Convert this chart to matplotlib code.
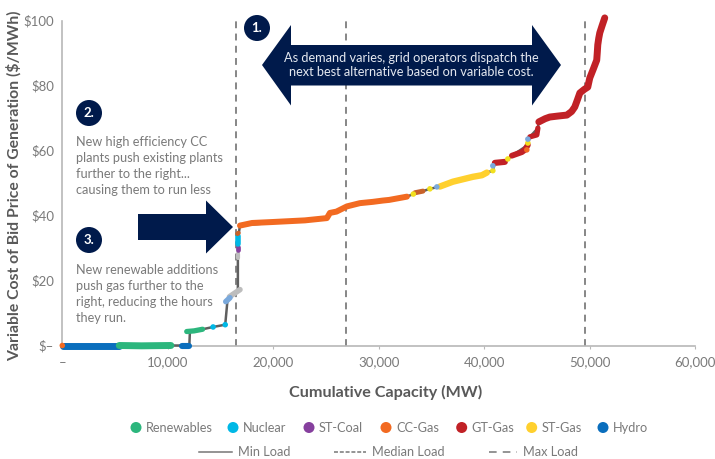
import matplotlib
matplotlib.use("Agg")
from matplotlib import pyplot as plt
from matplotlib.patches import Circle, Polygon

plt.rcParams['font.family'] = ['Lato', 'DejaVu Sans']

W = 715
H = 459
my_dpi = 100
navy = '#001a4b'
grey_text = '#7a7a7a'
dark_text = '#595959'
axis_grey = '#b8b8b8'
line_grey = '#5f5f5f'

GREEN = '#2cb67d'
NUCLEAR = '#00b8e6'
COAL = '#86409e'
CC = '#f26a21'
GT = '#c12126'
ST = '#ffd02e'
HYDRO = '#0a6ebd'
LT_BLUE = '#7aa9dc'
LT_GREY = '#bdbdbd'
BROWN = '#c8622a'
BRIGHT = '#f2e01f'

# supply stack, dark line underneath the coloured runs
curve_x = [0, 11300, 12050, 12100, 13300, 14300, 15450, 15650, 15900, 16650, 16650, 16700,
           16850, 25090, 25380, 26990, 28220, 32680, 33290, 34200, 34860, 35800, 38930, 40260,
           40830, 41020, 41970, 42630, 44150, 44340, 45100, 45190]
curve_y = [0, 0, 0.2, 4.2, 5.0, 5.7, 6.4, 13.4, 14.7, 17.0, 27.0, 33.7,
           36.9, 39.2, 40.8, 42.8, 43.8, 45.8, 46.6, 47.5, 48.2, 48.9, 51.9, 53.2,
           53.8, 56.2, 56.5, 58.4, 61.7, 64.2, 66.9, 68.8]

hydro_x = [100, 5400]
hydro_y = [0, 0]
hydro2_x = [11350, 12000]
hydro2_y = [0, 0]
renew_x = [5400, 7500, 10300]
renew_y = [0, -0.1, 0]
renew2_x = [11800, 12500, 13300]
renew2_y = [4.3, 4.5, 5.0]
grey_x = [15850, 16300, 16850]
grey_y = [15.0, 16.0, 17.2]
ltblue_x = [15500, 15900]
ltblue_y = [13.5, 14.7]
grey2_x = [16650, 16650]
grey2_y = [27.0, 28.2]
coal_x = [16650, 16650]
coal_y = [29.4, 30.2]
nuclear_x = [16700, 16700]
nuclear_y = [31.2, 33.6]
brown_x = [16620, 16700]
brown_y = [34.4, 34.6]
cc_x = [16850, 18000, 19970, 23000, 25090, 25380, 26000, 26990, 28220, 29450, 30400, 31000, 32680]
cc_y = [36.9, 37.7, 38.0, 38.5, 39.2, 40.8, 41.2, 42.8, 43.8, 44.2, 44.6, 44.8, 45.8]
brown2_x = [33440, 34200]
brown2_y = [47.0, 47.5]
st_x = [35800, 37040, 38930, 39800, 40260]
st_y = [48.9, 50.4, 51.9, 52.4, 53.2]
gt1_x = [41020, 41970]
gt1_y = [56.2, 56.5]
gt2_x = [42630, 43580, 43870, 44150]
gt2_y = [58.4, 59.5, 60.2, 61.7]
gt3_x = [44340, 45000, 45100]
gt3_y = [64.2, 64.8, 66.9]
gt4_x = [45190, 45800, 46230, 47000, 47850, 48300, 48600, 48850, 49080, 49500, 49830, 50020,
         50350, 50680, 50730, 50780, 50870, 50970, 51200, 51440]
gt4_y = [68.8, 69.8, 70.3, 70.6, 70.9, 72.0, 73.4, 75.6, 77.7, 78.8, 79.5, 82.3,
         85.0, 87.8, 90.0, 92.5, 94.5, 96.2, 98.5, 100.8]

# single small units sitting on the curve
dot_x = [0, 14300, 15450, 33290, 34860, 35520, 40830, 40830, 42250, 44050, 44150, 44150]
dot_y = [0, 5.7, 6.4, 46.6, 48.2, 48.8, 53.8, 55.3, 57.4, 60.2, 62.3, 63.5]
dot_c = [CC, NUCLEAR, NUCLEAR, BRIGHT, BRIGHT, LT_BLUE, BRIGHT, LT_BLUE, BRIGHT, CC, BRIGHT, LT_BLUE]

min_load = 16480
median_load = 26880
max_load = 49600

x_ticks = [0, 10000, 20000, 30000, 40000, 50000, 60000]
x_tick_labels = ['–', '10,000', '20,000', '30,000', '40,000', '50,000', '60,000']
y_ticks = [0, 20, 40, 60, 80, 100]
y_tick_labels = ['$–', '$20', '$40', '$60', '$80', '$100']

fuel_names = ['Renewables', 'Nuclear', 'ST-Coal', 'CC-Gas', 'GT-Gas', 'ST-Gas', 'Hydro']
fuel_colors = [GREEN, NUCLEAR, COAL, CC, GT, ST, HYDRO]
load_names = ['Min Load', 'Median Load', 'Max Load']

fig = plt.figure(figsize=(W/my_dpi, H/my_dpi), dpi=my_dpi, facecolor='w')
ax = fig.add_axes([62.3/W, 1-345.5/H, (695-62.3)/W, 325/H])
ax.set_xlim(0, 60000)
ax.set_ylim(0, 100)
for side in ['top', 'right']:
    ax.spines[side].set_visible(False)
for side in ['left', 'bottom']:
    ax.spines[side].set_color(axis_grey)
    ax.spines[side].set_linewidth(1.2)
ax.set_xticks(x_ticks)
ax.set_xticklabels(x_tick_labels, fontsize=9.5, color=grey_text)
ax.set_yticks(y_ticks)
ax.set_yticklabels(y_tick_labels, fontsize=9.5, color=grey_text)
ax.tick_params(axis='x', length=2, color=axis_grey, pad=6)
ax.tick_params(axis='y', length=0, pad=6)

for load in [min_load, median_load, max_load]:
    ax.axvline(load, color='#666666', linewidth=1.1, linestyle=(0, (4.5, 3.5)), zorder=2)

ax.plot(curve_x, curve_y, color=line_grey, linewidth=1.8, clip_on=False, zorder=3)

runs = [
    (cc_x, cc_y, CC, 4.3),
    (hydro_x, hydro_y, HYDRO, 5.0),
    (renew_x, renew_y, GREEN, 5.0),
    (hydro2_x, hydro2_y, HYDRO, 4.4),
    (renew2_x, renew2_y, GREEN, 3.8),
    (grey_x, grey_y, LT_GREY, 4.0),
    (ltblue_x, ltblue_y, LT_BLUE, 4.0),
    (grey2_x, grey2_y, LT_GREY, 3.0),
    (coal_x, coal_y, COAL, 3.4),
    (nuclear_x, nuclear_y, NUCLEAR, 4.0),
    (brown_x, brown_y, BROWN, 3.4),
    (brown2_x, brown2_y, BROWN, 3.6),
    (st_x, st_y, ST, 4.6),
    (gt1_x, gt1_y, GT, 4.4),
    (gt2_x, gt2_y, GT, 4.2),
    (gt3_x, gt3_y, GT, 3.8),
    (gt4_x, gt4_y, GT, 5.0),
]
for xs, ys, color, width in runs:
    ax.plot(xs, ys, color=color, linewidth=width, solid_capstyle='round', solid_joinstyle='round',
            clip_on=False, zorder=4)
ax.scatter(dot_x, dot_y, c=dot_c, s=16, linewidths=0, clip_on=False, zorder=5)

# callouts and legends go on a pixel-sized overlay
over = fig.add_axes([0, 0, 1, 1])
over.set_xlim(0, W)
over.set_ylim(H, 0)
over.axis('off')
over.patch.set_alpha(0)

over.text(14, 186, 'Variable Cost of Bid Price of Generation ($/MWh)', rotation=90, ha='center', va='center',
          fontsize=11.3, fontweight='bold', color=dark_text)
over.text(386, 392, 'Cumulative Capacity (MW)', ha='center', va='center',
          fontsize=11.6, fontweight='bold', color=dark_text)

over.add_patch(Polygon([(262, 65), (291, 25), (291, 45), (532, 45), (532, 25), (561, 65),
                        (532, 105.5), (532, 85.5), (291, 85.5), (291, 105.5)],
                       closed=True, facecolor=navy, edgecolor='none', zorder=6))
over.add_patch(Polygon([(138, 214), (206, 214), (206, 200.5), (233, 227), (206, 253.5), (206, 240), (138, 240)],
                       closed=True, facecolor=navy, edgecolor='none', zorder=6))
over.text(411, 65, 'As demand varies, grid operators dispatch the\nnext best alternative based on variable cost.',
          ha='center', va='center', color='#e4e8f0', fontsize=9.2, linespacing=1.15, zorder=7)

for cx, cy, num in [(257, 28, '1.'), (89, 113, '2.'), (89, 240, '3.')]:
    over.add_patch(Circle((cx, cy), 13, facecolor=navy, edgecolor='none', zorder=6))
    over.text(cx, cy, num, ha='center', va='center', color='w', fontsize=9.5, fontweight='bold', zorder=7)

lines_2 = ['New high efficiency CC', 'plants push existing plants', 'further to the right...', 'causing them to run less']
for i, s in enumerate(lines_2):
    over.text(75.5, 141.5 + i*16, s, ha='left', va='center', color=grey_text, fontsize=9.2)
lines_3 = ['New renewable additions', 'push gas further to the', 'right, reducing the hours', 'they run.']
for i, s in enumerate(lines_3):
    over.text(75.5, 270 + i*16, s, ha='left', va='center', color=grey_text, fontsize=9.2)

# fuel legend row
dot_pos = [136, 233, 309, 386, 461.7, 531.7, 603]
for px, name, color in zip(dot_pos, fuel_names, fuel_colors):
    over.add_patch(Circle((px, 427.5), 5.5, facecolor=color, edgecolor='none'))
    over.text(px + 10, 427.5, name, ha='left', va='center', color=grey_text, fontsize=9.2)

# load legend row
styles = ['-', (0, (2.6, 1.2)), (0, (5, 4))]
starts = [199, 334, 489]
ends = [232, 366, 517]
for x0, x1, ls, name in zip(starts, ends, styles, load_names):
    over.plot([x0, x1], [452, 452], color='#777777', linewidth=1.1, linestyle=ls)
    over.text(x1 + 6, 452, name, ha='left', va='center', color=grey_text, fontsize=9.2)

fig.savefig('out.png', dpi=my_dpi)
